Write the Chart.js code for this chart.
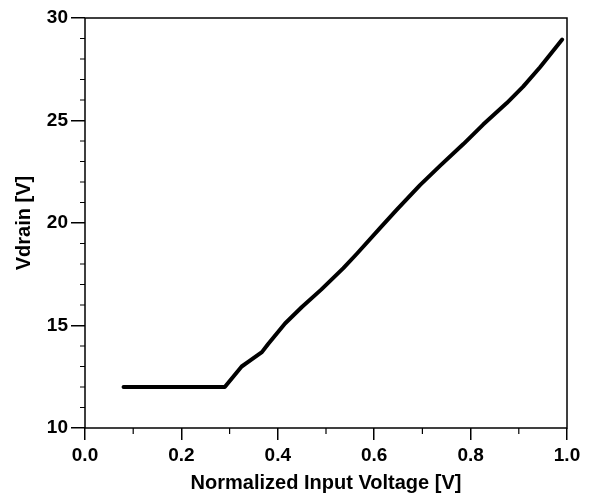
<!DOCTYPE html>
<html>
<head>
<meta charset="utf-8">
<script src="https://cdn.jsdelivr.net/npm/chart.js@4.4.1/dist/chart.umd.min.js"></script>
<style>
  html, body { margin: 0; padding: 0; background: #fff; }
  #wrap { width: 590px; height: 497px; }
</style>
</head>
<body>
<div id="wrap"><canvas id="vdrain"></canvas></div>
<script>
// values
var inputVoltage = [0.08, 0.29, 0.325, 0.34, 0.367, 0.38, 0.415, 0.45, 0.49, 0.536, 0.564, 0.612, 0.647, 0.695, 0.737, 0.785, 0.826, 0.875, 0.909, 0.944, 0.99];
var drainVoltage = [12.0, 12.0, 13.0, 13.25, 13.7, 14.1, 15.1, 15.9, 16.75, 17.8, 18.5, 19.75, 20.65, 21.85, 22.8, 23.85, 24.8, 25.85, 26.65, 27.6, 28.95];
var xTicks = [0.0, 0.2, 0.4, 0.6, 0.8, 1.0];
var yTicks = [10, 15, 20, 25, 30];

var points = inputVoltage.map(function (v, i) { return {x: v, y: drainVoltage[i]}; });
var font = {family: "'Liberation Sans', Arial, sans-serif", weight: 'bold'};

// minor ticks + frame around the plot
var frame = {
  id: 'frame',
  afterDraw: function (chart) {
    var ctx = chart.ctx, a = chart.chartArea;
    var xs = chart.scales.x, ys = chart.scales.y;
    ctx.save();
    ctx.strokeStyle = '#000';
    ctx.lineWidth = 1.5;
    ctx.strokeRect(a.left, a.top, a.right - a.left, a.bottom - a.top);
    ctx.lineWidth = 1.2;
    ctx.beginPath();
    for (var v = 0.1; v < 1; v += 0.2) {
      var px = xs.getPixelForValue(v);
      ctx.moveTo(px, a.bottom);
      ctx.lineTo(px, a.bottom + 6);
    }
    for (var k = 11; k < 30; k++) {
      if (k % 5 === 0) continue;
      var py = ys.getPixelForValue(k);
      ctx.moveTo(a.left, py);
      ctx.lineTo(a.left - 5, py);
    }
    ctx.stroke();
    ctx.restore();
  }
};

new Chart('vdrain', {
  type: 'line',
  data: {
    datasets: [{
      data: points,
      borderColor: '#000',
      borderWidth: 4,
      pointRadius: 0,
      tension: 0,
      borderJoinStyle: 'round',
      borderCapStyle: 'round',
      fill: false
    }]
  },
  options: {
    responsive: true,
    maintainAspectRatio: false,
    animation: false,
    layout: {padding: {top: 18, right: 23, left: 0, bottom: 0}},
    plugins: {legend: {display: false}, tooltip: {enabled: false}},
    scales: {
      x: {
        type: 'linear',
        min: 0, max: 1,
        afterBuildTicks: function (s) { s.ticks = xTicks.map(function (v) { return {value: v}; }); },
        afterFit: function (s) { s.height = 69; },
        border: {display: false},
        grid: {drawOnChartArea: false, color: '#000', tickLength: 12, lineWidth: 1.5},
        ticks: {color: '#000', font: Object.assign({size: 19}, font), padding: 4,
                callback: function (v) { return v.toFixed(1); }},
        title: {display: true, text: 'Normalized Input Voltage [V]', color: '#000',
                font: Object.assign({size: 20}, font), padding: {top: 4, bottom: 2}}
      },
      y: {
        min: 10, max: 30,
        afterBuildTicks: function (s) { s.ticks = yTicks.map(function (v) { return {value: v}; }); },
        afterFit: function (s) { s.width = 85; },
        border: {display: false},
        grid: {drawOnChartArea: false, color: '#000', tickLength: 14, lineWidth: 1.5},
        ticks: {color: '#000', font: Object.assign({size: 19}, font), padding: 3},
        title: {display: true, text: 'Vdrain [V]', color: '#000',
                font: Object.assign({size: 20}, font), padding: {top: 12, bottom: 0}}
      }
    }
  },
  plugins: [frame]
});
</script>
</body>
</html>
